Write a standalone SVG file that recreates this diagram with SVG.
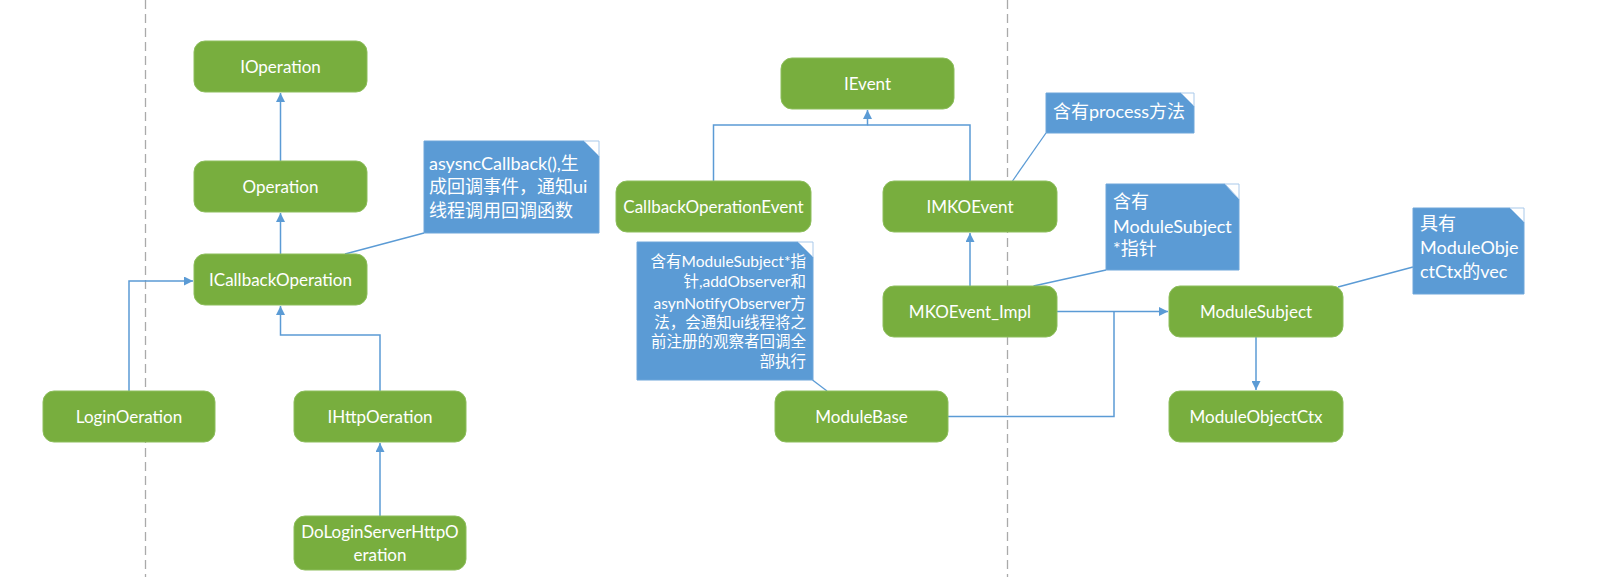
<svg xmlns="http://www.w3.org/2000/svg" width="1599" height="577" viewBox="0 0 1599 577">
<style>
.box{fill:#78AE3E;stroke:#8DBE5C;stroke-width:1}
.bt{fill:#fff;font-family:Lato,"Noto Sans CJK SC",sans-serif;font-size:17px;text-anchor:middle}
.note{fill:#5B9BD5;stroke:#6FA6DA;stroke-width:1}
.fold{fill:#fff;stroke:#A9C9EA;stroke-width:1}
.nt{fill:#fff;font-family:Lato,"Noto Sans CJK SC",sans-serif;font-size:18px}
.nt2{fill:#fff;font-family:Lato,"Noto Sans CJK SC",sans-serif;font-size:15.5px;text-anchor:end}
.c{fill:none;stroke:#5B9BD5;stroke-width:1.5}
.cl{fill:none;stroke:#5B9BD5;stroke-width:1.3}
.dash{stroke:#AAAAAA;stroke-width:1.3;stroke-dasharray:9 5}
</style>
<defs>
<marker id="ah" viewBox="0 0 10 10" refX="10" refY="5" markerWidth="9" markerHeight="9" markerUnits="userSpaceOnUse" orient="auto">
<path d="M0,0 L10,5 L0,10 z" fill="#5B9BD5"/>
</marker>
</defs>
<rect width="1599" height="577" fill="#fff"/>
<g id="separators">
<line class="dash" x1="145.5" y1="0" x2="145.5" y2="577"/>
<line class="dash" x1="1007.5" y1="0" x2="1007.5" y2="577"/>
</g>
<g id="connectors">
<path class="c" d="M280.5,161 V93" marker-end="url(#ah)"/>
<path class="c" d="M280.5,254 V213" marker-end="url(#ah)"/>
<path class="c" d="M129,391 V281 H193" marker-end="url(#ah)"/>
<path class="c" d="M380,391 V335 H280.5 V306" marker-end="url(#ah)"/>
<path class="c" d="M380,516 V443" marker-end="url(#ah)"/>
<path class="c" d="M713.5,181 V125 H867.5 V110" marker-end="url(#ah)"/>
<path class="c" d="M970,181 V125 H867.5"/>
<path class="c" d="M970,286 V233" marker-end="url(#ah)"/>
<path class="c" d="M1057,311.5 H1168" marker-end="url(#ah)"/>
<path class="c" d="M948,416.5 H1114 V311.5"/>
<path class="c" d="M1256,337 V390" marker-end="url(#ah)"/>
<line class="cl" x1="345" y1="254" x2="424" y2="233"/>
<line class="cl" x1="812.5" y1="380" x2="827" y2="391"/>
<line class="cl" x1="1046" y1="133" x2="1012.5" y2="181"/>
<line class="cl" x1="1106" y1="270" x2="1033.5" y2="286"/>
<line class="cl" x1="1413" y1="267" x2="1338" y2="287"/>
</g>
<g id="IOperation"><rect class="box" x="194" y="41" width="173" height="51" rx="11"/><text class="bt" x="280.5" y="72.5">IOperation</text></g>
<g id="Operation"><rect class="box" x="194" y="161" width="173" height="51" rx="11"/><text class="bt" x="280.5" y="192.5">Operation</text></g>
<g id="ICallbackOperation"><rect class="box" x="194" y="254" width="173" height="51" rx="11"/><text class="bt" x="280.5" y="285.5">ICallbackOperation</text></g>
<g id="LoginOeration"><rect class="box" x="43" y="391" width="172" height="51" rx="11"/><text class="bt" x="129" y="422.5">LoginOeration</text></g>
<g id="IHttpOeration"><rect class="box" x="294" y="391" width="172" height="51" rx="11"/><text class="bt" x="380" y="422.5">IHttpOeration</text></g>
<g id="DoLoginServerHttpOeration"><rect class="box" x="294" y="516" width="172" height="54" rx="11"/><text class="bt" x="380" y="538">DoLoginServerHttpO</text><text class="bt" x="380" y="560.5">eration</text></g>
<g id="IEvent"><rect class="box" x="781" y="58" width="173" height="51" rx="11"/><text class="bt" x="867.5" y="89.5">IEvent</text></g>
<g id="CallbackOperationEvent"><rect class="box" x="616" y="181" width="195" height="51" rx="11"/><text class="bt" x="713.5" y="212.5">CallbackOperationEvent</text></g>
<g id="IMKOEvent"><rect class="box" x="883" y="181" width="174" height="51" rx="11"/><text class="bt" x="970" y="212.5">IMKOEvent</text></g>
<g id="MKOEvent_Impl"><rect class="box" x="883" y="286" width="174" height="51" rx="11"/><text class="bt" x="970" y="317.5">MKOEvent_Impl</text></g>
<g id="ModuleBase"><rect class="box" x="775" y="391" width="173" height="51" rx="11"/><text class="bt" x="861.5" y="422.5">ModuleBase</text></g>
<g id="ModuleSubject"><rect class="box" x="1169" y="286" width="174" height="51" rx="11"/><text class="bt" x="1256" y="317.5">ModuleSubject</text></g>
<g id="ModuleObjectCtx"><rect class="box" x="1169" y="391" width="174" height="51" rx="11"/><text class="bt" x="1256" y="422.5">ModuleObjectCtx</text></g>
<g id="note-asyncCallback">
<polygon class="note" points="424,141 584,141 599,156 599,233 424,233"/>
<polygon class="fold" points="584,141 599,141 599,156"/>
<text class="nt" x="429" y="170">asysncCallback(),生</text>
<text class="nt" x="429" y="193">成回调事件，通知ui</text>
<text class="nt" x="429" y="217">线程调用回调函数</text>
</g>
<g id="note-ModuleBase">
<polygon class="note" points="637,242 798,242 813,257 813,380 637,380"/>
<polygon class="fold" points="798,242 813,242 813,257"/>
<text class="nt2" x="806" y="266.5">含有ModuleSubject*指</text>
<text class="nt2" x="806" y="286.5">针,addObserver和</text>
<text class="nt2" x="806" y="308.5">asynNotifyObserver方</text>
<text class="nt2" x="806" y="328">法，会通知ui线程将之</text>
<text class="nt2" x="806" y="347">前注册的观察者回调全</text>
<text class="nt2" x="806" y="366.5">部执行</text>
</g>
<g id="note-process">
<polygon class="note" points="1046,93 1181,93 1194,106 1194,133 1046,133"/>
<polygon class="fold" points="1181,93 1194,93 1194,106"/>
<text class="nt" x="1053" y="118">含有process方法</text>
</g>
<g id="note-ModuleSubject">
<polygon class="note" points="1106,184 1225,184 1239,199 1239,270 1106,270"/>
<polygon class="fold" points="1225,184 1239,184 1239,199"/>
<text class="nt" x="1113" y="208">含有</text>
<text class="nt" x="1113" y="233">ModuleSubject</text>
<text class="nt" x="1113" y="255">*指针</text>
</g>
<g id="note-ModuleObjectCtx">
<polygon class="note" points="1413,208 1510,208 1524,222 1524,294 1413,294"/>
<polygon class="fold" points="1510,208 1524,208 1524,222"/>
<text class="nt" x="1420" y="230">具有</text>
<text class="nt" x="1420" y="254">ModuleObje</text>
<text class="nt" x="1420" y="278">ctCtx的vec</text>
</g>
</svg>
